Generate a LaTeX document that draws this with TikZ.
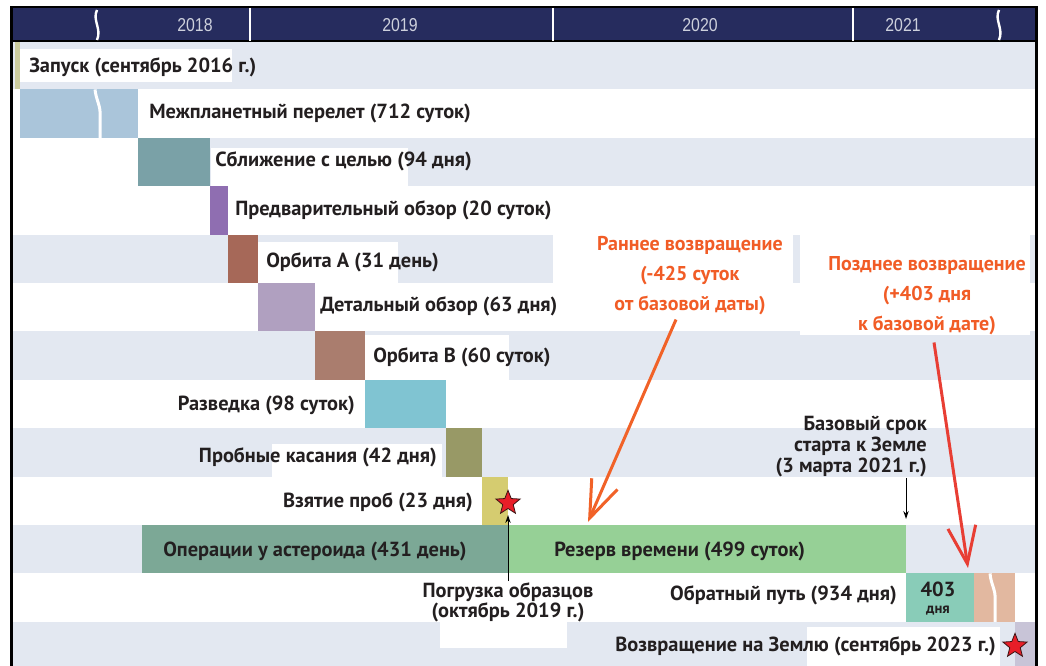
\documentclass[tikz,border=0pt]{standalone}
\usepackage{fontspec}
\usetikzlibrary{arrows.meta,shapes.geometric,calc}
\newfontfamily\ptsans{PT Sans}
\newfontfamily\yearfam[FakeStretch=0.85]{Liberation Sans}
\newcommand{\labelfnt}{\ptsans\bfseries\fontsize{15.3}{17}\selectfont}
\newcommand{\notefnt}{\ptsans\bfseries\fontsize{15}{22.5}\selectfont}
\newcommand{\srokfnt}{\ptsans\bfseries\fontsize{15.3}{15.5}\selectfont}
\newcommand{\daysfnt}{\ptsans\bfseries\fontsize{11}{11}\selectfont}
\newcommand{\yearfnt}{\yearfam\fontsize{14}{15}\selectfont}

\begin{document}
\begin{tikzpicture}[x=0.75pt,y=0.75pt,yscale=-1,xscale=1,
  band/.style={fill={rgb, 255:red, 227; green, 232; blue, 241 }, draw=none},
  blank/.style={fill=white, draw=none},
  lbl/.style={anchor=west, inner sep=0.75pt, font=\labelfnt, text={rgb, 255:red, 35; green, 31; blue, 32 }},
  lblr/.style={lbl, anchor=east},
  note/.style={inner sep=0.75pt, font=\notefnt, text={rgb, 255:red, 241; green, 92; blue, 38 }, align=center},
  notearrow/.style={line width=2.25, -{Straight Barb[length=28pt,width=21pt]}},
  year/.style={inner sep=0.75pt, font=\yearfnt, text={rgb, 255:red, 205; green, 208; blue, 220 }},
  goalstar/.style={star, star points=5, star point ratio=2.3, minimum size=19pt, inner sep=0pt, fill={rgb, 255:red, 232; green, 30; blue, 40 }, draw={rgb, 255:red, 60; green, 20; blue, 20 }, line width=0.6},
  brk/.style={white, line width=2.25}
  ]
\useasboundingbox (0,0) rectangle (1046,666);
\fill [white] (0,0) -- (1046,0) -- (1046,666) -- (0,666) -- cycle ;

%Shape: Rectangle
\draw [band] (13,41) -- (1036,41) -- (1036,89.4) -- (13,89.4) -- cycle ;
%Shape: Rectangle
\draw [band] (138,137.8) -- (1036,137.8) -- (1036,186.2) -- (138,186.2) -- cycle ;
%Shape: Rectangle
\draw [band] (13,234.6) -- (1036,234.6) -- (1036,283) -- (13,283) -- cycle ;
%Shape: Rectangle
\draw [band] (13,331.4) -- (1036,331.4) -- (1036,379.8) -- (13,379.8) -- cycle ;
%Shape: Rectangle
\draw [band] (13,428.2) -- (1036,428.2) -- (1036,476.6) -- (13,476.6) -- cycle ;
%Shape: Rectangle
\draw [band] (13,525) -- (1036,525) -- (1036,573.4) -- (13,573.4) -- cycle ;
%Shape: Rectangle
\draw [band] (13,621.8) -- (1036,621.8) -- (1036,666) -- (13,666) -- cycle ;

% white boxes behind the texts
\draw [blank] (20,49) -- (232,49) -- (232,82) -- (20,82) -- cycle ;
\draw [blank] (211,148) -- (408,148) -- (408,186.2) -- (211,186.2) -- cycle ;
\draw [blank] (258,242) -- (398,242) -- (398,283) -- (258,283) -- cycle ;
\draw [blank] (553,234.6) -- (793,234.6) -- (793,283) -- (553,283) -- cycle ;
\draw [blank] (800,234.6) -- (1030,234.6) -- (1030,335) -- (800,335) -- cycle ;
\draw [blank] (365,335) -- (509,335) -- (509,379.8) -- (365,379.8) -- cycle ;
\draw [blank] (272,444) -- (442,444) -- (442,476.6) -- (272,476.6) -- cycle ;
\draw [blank] (440,621.8) -- (567,621.8) -- (567,648) -- (440,648) -- cycle ;
\draw [blank] (807,627) -- (1000,627) -- (1000,666) -- (807,666) -- cycle ;

%Shape: Rectangle
\draw [draw=none, fill={rgb, 255:red, 204; green, 204; blue, 158 }] (15,41) -- (20,41) -- (20,89.4) -- (15,89.4) -- cycle ;
%Shape: Rectangle
\draw [draw=none, fill={rgb, 255:red, 170; green, 197; blue, 218 }] (20,89.4) -- (138,89.4) -- (138,137.8) -- (20,137.8) -- cycle ;
\draw [brk] (95,89.4) .. controls (96,100) and (101,106) .. (100,116) -- (100,137.8) ;
%Shape: Rectangle
\draw [draw=none, fill={rgb, 255:red, 122; green, 161; blue, 167 }] (138,137.8) -- (210,137.8) -- (210,186.2) -- (138,186.2) -- cycle ;
%Shape: Rectangle
\draw [draw=none, fill={rgb, 255:red, 143; green, 110; blue, 177 }] (210,186.2) -- (228,186.2) -- (228,234.6) -- (210,234.6) -- cycle ;
%Shape: Rectangle
\draw [draw=none, fill={rgb, 255:red, 166; green, 104; blue, 88 }] (228,234.6) -- (258,234.6) -- (258,283) -- (228,283) -- cycle ;
%Shape: Rectangle
\draw [draw=none, fill={rgb, 255:red, 176; green, 160; blue, 192 }] (258,283) -- (315,283) -- (315,331.4) -- (258,331.4) -- cycle ;
%Shape: Rectangle
\draw [draw=none, fill={rgb, 255:red, 170; green, 125; blue, 110 }] (315,331.4) -- (365,331.4) -- (365,379.8) -- (315,379.8) -- cycle ;
%Shape: Rectangle
\draw [draw=none, fill={rgb, 255:red, 128; green, 196; blue, 210 }] (365,379.8) -- (446,379.8) -- (446,428.2) -- (365,428.2) -- cycle ;
%Shape: Rectangle
\draw [draw=none, fill={rgb, 255:red, 152; green, 153; blue, 102 }] (446,428.2) -- (482,428.2) -- (482,476.6) -- (446,476.6) -- cycle ;
%Shape: Rectangle
\draw [draw=none, fill={rgb, 255:red, 213; green, 204; blue, 112 }] (482,476.6) -- (508,476.6) -- (508,525) -- (482,525) -- cycle ;
%Shape: Rectangle
\draw [draw=none, fill={rgb, 255:red, 124; green, 168; blue, 150 }] (142,525) -- (508,525) -- (508,573.4) -- (142,573.4) -- cycle ;
%Shape: Rectangle
\draw [draw=none, fill={rgb, 255:red, 150; green, 208; blue, 150 }] (508,525) -- (906,525) -- (906,573.4) -- (508,573.4) -- cycle ;
%Shape: Rectangle
\draw [draw=none, fill={rgb, 255:red, 137; green, 204; blue, 184 }] (906,573.4) -- (974,573.4) -- (974,621.8) -- (906,621.8) -- cycle ;
%Shape: Rectangle
\draw [draw=none, fill={rgb, 255:red, 226; green, 184; blue, 160 }] (974,573.4) -- (1015,573.4) -- (1015,621.8) -- (974,621.8) -- cycle ;
\draw [brk] (990,573.4) .. controls (991,585) and (996,590) .. (995,600) -- (995,621.8) ;
%Shape: Rectangle
\draw [draw=none, fill={rgb, 255:red, 200; green, 196; blue, 215 }] (1015,621.8) -- (1036,621.8) -- (1036,666) -- (1015,666) -- cycle ;

%Shape: Rectangle (years bar)
\draw [draw=black, line width=1.5, fill={rgb, 255:red, 38; green, 44; blue, 94 }] (11,7) -- (1037,7) -- (1037,41) -- (11,41) -- cycle ;
\draw [white, line width=1.5] (250,8) -- (250,41) ;
\draw [white, line width=1.5] (553,8) -- (553,41) ;
\draw [white, line width=1.5] (853,8) -- (853,41) ;
\draw [brk, line width=1.8] (97,10) .. controls (92,20) and (102,29) .. (97,40) ;
\draw [brk, line width=1.8] (999,10) .. controls (994,20) and (1004,29) .. (999,40) ;
%Straight Lines
\draw [line width=2.25] (11.5,7) -- (11.5,666) ;
%Straight Lines
\draw [line width=2.25] (1036.5,7) -- (1036.5,666) ;

% Text Node
\draw (195,25) node [year] (y2018) {2018};
% Text Node
\draw (400,25) node [year] (y2019) {2019};
% Text Node
\draw (700,25) node [year] (y2020) {2020};
% Text Node
\draw (903,25) node [year] (y2021) {2021};

% Text Node
\draw (28,67) node [lbl] (launch) {Запуск (сентябрь 2016 г.)};
% Text Node
\draw (148,113) node [lbl] (cruise) {Межпланетный перелет (712 суток)};
% Text Node
\draw (214,161) node [lbl] (approach) {Сближение с целью (94 дня)};
% Text Node
\draw (234,210) node [lbl] (prelim) {Предварительный обзор (20 суток)};
% Text Node
\draw (265,262) node [lbl] (orbA) {Орбита А (31 день)};
% Text Node
\draw (319,306) node [lbl] (detail) {Детальный обзор (63 дня)};
% Text Node
\draw (372,357) node [lbl] (orbB) {Орбита В (60 суток)};
% Text Node
\draw (356,405) node [lblr] (recon) {Разведка (98 суток)};
% Text Node
\draw (438,457) node [lblr] (rehearsal) {Пробные касания (42 дня)};
% Text Node
\draw (474,502) node [lblr] (sampling) {Взятие проб (23 дня)};
% Text Node
\draw (162,551) node [lbl] (ops) {Операции у астероида (431 день)};
% Text Node
\draw (553,551) node [lbl] (reserve) {Резерв времени (499 суток)};
% Text Node
\draw (898,595) node [lblr] (cruiseback) {Обратный путь (934 дня)};
% Text Node
\draw (938,596) node [lbl, anchor=base, inner sep=0pt] (days) {403};
% Text Node
\draw (938,613) node [lbl, anchor=base, inner sep=0pt, font=\daysfnt] (daysunit) {дня};
% Text Node
\draw (997,646) node [lblr] (home) {Возвращение на Землю (сентябрь 2023 г.)};

% stars
\draw (508,503) node [goalstar] (loadstar) {};
\draw (1015,646) node [goalstar] (homestar) {};

% Text Node
\draw (508,581) node [anchor=north, inner sep=0.75pt, font=\srokfnt, align=center, text={rgb, 255:red, 35; green, 31; blue, 32 }] (load) {Погрузка образцов\\(октябрь 2019 г.)};
% Text Node
\draw (928,478) node [anchor=south east, inner sep=0.75pt, font=\srokfnt, align=right, text={rgb, 255:red, 35; green, 31; blue, 32 }] (base) {Базовый срок\\старта к Земле\\(3 марта 2021 г.)};
% Text Node
\draw (690,276) node [note] (early) {Раннее возвращение\\(-425 суток\\от базовой даты)};
% Text Node
\draw (927,296) node [note] (late) {Позднее возвращение\\(+403 дня\\к базовой дате)};

\coordinate (loadtip) at (508,515);
\coordinate (basetip) at (906,519);
\coordinate (earlytip) at (588,522);
\coordinate (latetip) at (968,568);

\draw [line width=0.75, -{Stealth[length=6pt,width=4pt]}] (load.north) -- (loadtip) ;
\draw [line width=0.75, -{Stealth[length=6pt,width=4pt]}] (base.south -| basetip) -- (basetip) ;
\draw [notearrow, color={rgb, 255:red, 241; green, 98; blue, 40 }] ($(early.south)+(-14,3)$) -- (earlytip) ;
\draw [notearrow, color={rgb, 255:red, 232; green, 62; blue, 52 }] ($(late.south)+(7,6)$) -- (latetip) ;
\end{tikzpicture}
\end{document}
